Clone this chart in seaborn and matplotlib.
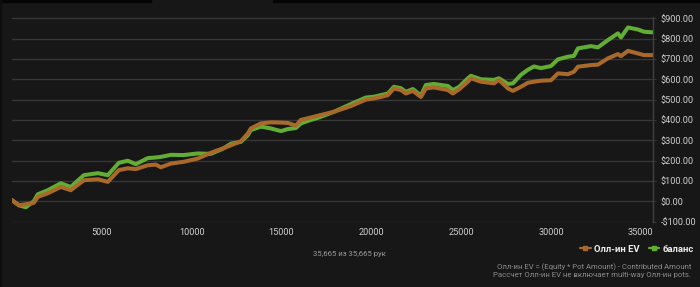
import matplotlib
matplotlib.use("Agg")
import matplotlib.pyplot as plt
from matplotlib.lines import Line2D
from matplotlib.patches import Rectangle
from matplotlib.ticker import FuncFormatter
import seaborn as sns
import pandas as pd

# ---- data ----
hands = [0, 379, 768, 1214, 1437, 1993, 2717, 3274, 3998, 4777, 5334, 5947, 6448,
         6893, 7561, 8007, 8285, 8842, 9566, 10345, 11069, 11737, 12183, 12740,
         13129, 13296, 13853, 14410, 14967, 15356, 15802, 16080, 16637, 17082,
         17918, 18864, 19699, 20145, 20535, 20924, 21258, 21648, 21927, 22316,
         22762, 23040, 23486, 24265, 24543, 24878, 25379, 25546, 26102, 26826,
         27105, 27606, 27884, 28330, 28719, 29053, 29443, 30000, 30390, 30947,
         31281, 31503, 32227, 32617, 33174, 33731, 33898, 34287, 34844, 35178, 35665]
allin_ev = [5, -20, -15, -8, 21, 39, 70, 54, 103, 108, 95, 153, 162,
            158, 177, 180, 167, 185, 194, 210, 238, 260, 275, 295,
            333, 358, 383, 388, 387, 385, 372, 400, 412, 422,
            440, 468, 500, 506, 513, 522, 555, 547, 530, 543,
            513, 555, 560, 547, 530, 550, 588, 605, 588, 580,
            597, 555, 543, 563, 583, 588, 593, 595, 629, 625,
            637, 662, 670, 672, 703, 724, 714, 740, 727, 719, 719]
balance = [5, -20, -30, 0, 34, 54, 88, 70, 128, 138, 128, 189, 199,
           182, 212, 215, 218, 228, 227, 235, 233, 258, 283, 292,
           325, 350, 367, 358, 345, 355, 360, 383, 400, 412,
           440, 478, 510, 514, 522, 530, 563, 556, 538, 552,
           520, 572, 577, 567, 547, 562, 605, 617, 600, 597,
           605, 577, 580, 622, 647, 663, 655, 665, 698, 711,
           715, 752, 763, 757, 793, 826, 806, 855, 845, 834, 831]
series_names = ["Олл-ин EV", "баланс"]
x_ticks = [5000, 10000, 15000, 20000, 25000, 30000, 35000]
y_ticks = [-100, 0, 100, 200, 300, 400, 500, 600, 700, 800, 900]
total_hands = 35665

BG = "#171717"
ORANGE = "#a8692a"
GREEN = "#62ae34"

sns.set_style("dark", rc={"axes.facecolor": BG, "figure.facecolor": BG})
plt.rcParams["font.family"] = ["Roboto", "DejaVu Sans"]

df = pd.concat([
    pd.DataFrame({"hand": hands, "value": balance, "series": series_names[1]}),
    pd.DataFrame({"hand": hands, "value": allin_ev, "series": series_names[0]}),
])

fig = plt.figure(figsize=(7.0, 2.87), dpi=100)
fig.patch.set_facecolor(BG)
ax = fig.add_axes([12 / 700, 65.5 / 287, 640.7 / 700, 204.8 / 287])
ax.set_facecolor(BG)

sns.lineplot(data=df, x="hand", y="value", hue="series",
             hue_order=[series_names[1], series_names[0]],
             palette={series_names[0]: ORANGE, series_names[1]: GREEN},
             linewidth=2.9, legend=False, errorbar=None, ax=ax)

ax.set_xlim(0, total_hands)
ax.set_ylim(-100, 908)
ax.set_xticks(x_ticks)
ax.set_xticklabels([str(t) for t in x_ticks])
ax.set_yticks(y_ticks)
ax.yaxis.set_major_formatter(FuncFormatter(
    lambda v, p: ("-$%.2f" % abs(v)) if v < 0 else ("$%.2f" % v)))
ax.yaxis.tick_right()
ax.set_xlabel("")
ax.set_ylabel("")

ax.grid(axis="y", color="#363636", linewidth=1.0)
ax.grid(axis="x", visible=False)
for s in ["top", "left", "bottom"]:
    ax.spines[s].set_visible(False)
ax.spines["right"].set_visible(True)
ax.spines["right"].set_color("#404040")
ax.spines["right"].set_linewidth(1.0)

ax.tick_params(axis="y", length=2, color="#363636", pad=3.5,
               labelsize=6.6, labelcolor="#cfcfcf")
ax.tick_params(axis="x", length=0, pad=4.5, labelsize=6.6, labelcolor="#cfcfcf")

# legend
handles = [Line2D([], [], color=ORANGE, lw=1.6, marker="s", markersize=3.2),
           Line2D([], [], color=GREEN, lw=1.6, marker="s", markersize=3.2)]
fig.legend(handles, series_names, loc="center right",
           bbox_to_anchor=(694 / 700, 1 - 249 / 287), ncol=2, frameon=False,
           handlelength=1.1, handletextpad=0.4, columnspacing=0.9,
           prop={"weight": "bold", "size": 6.8}, labelcolor="#ececec",
           borderaxespad=0, borderpad=0)

fig.text(349 / 700, 1 - 254 / 287, "35,665 из 35,665 рук", ha="center",
         va="center", color="#9a9a9a", fontsize=5.6)
fig.text(691 / 700, 1 - 267.5 / 287,
         "Олл-ин EV = (Equity * Pot Amount) - Contributed Amount",
         ha="right", va="center", color="#8c8c8c", fontsize=5.6)
fig.text(691 / 700, 1 - 275.5 / 287,
         "Рассчет Олл-ин EV не включает multi-way Олл-ин pots.",
         ha="right", va="center", color="#8c8c8c", fontsize=5.6)

# top dark strip with a tab, thin left edge
fig.patches.append(Rectangle((0, 1 - 2.3 / 287), 150.5 / 700, 2.3 / 287,
                             transform=fig.transFigure, color="#050505", zorder=0))
fig.patches.append(Rectangle((273 / 700, 1 - 2.3 / 287), 427 / 700, 2.3 / 287,
                             transform=fig.transFigure, color="#050505", zorder=0))
fig.patches.append(Rectangle((0, 0), 1.3 / 700, 1,
                             transform=fig.transFigure, color="#0e0e0e", zorder=0))

fig.savefig("out.png", dpi=100, facecolor=BG)
